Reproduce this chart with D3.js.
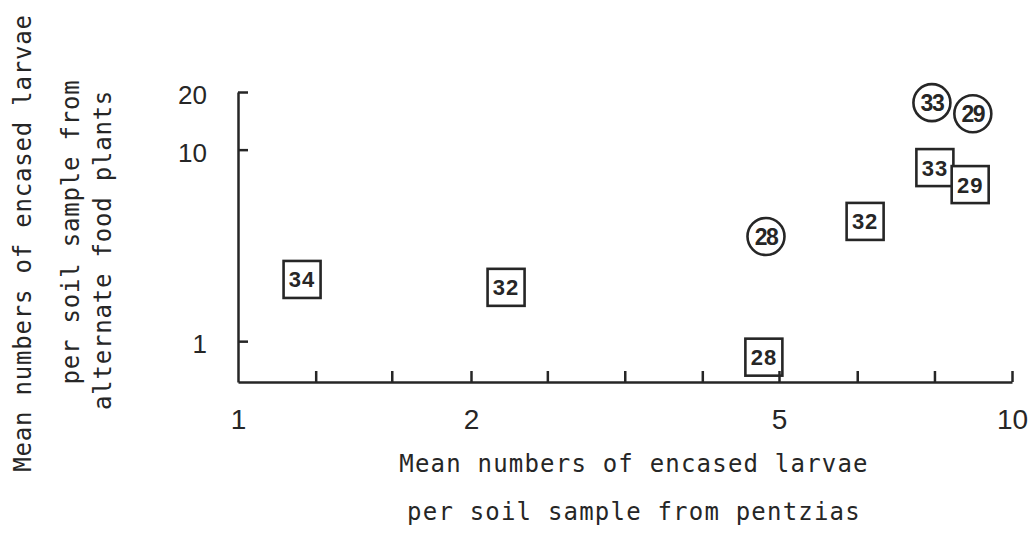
<!DOCTYPE html>
<html>
<head>
<meta charset="utf-8">
<script src="https://cdn.jsdelivr.net/npm/d3@7"></script>
<style>
  body { margin: 0; background: #fff; }
  svg { display: block; }
</style>
</head>
<body>
<div class="content-container"></div>
<script>
// data
const squareLabels = ["34", "32", "28", "32", "33", "29"];
const squareX = [1.21, 2.22, 4.78, 6.46, 7.95, 8.83];
const squareY = [2.10, 1.91, 0.825, 4.22, 8.06, 6.57];

const circleLabels = ["28", "33", "29"];
const circleX = [4.81, 7.88, 8.90];
const circleY = [3.52, 17.6, 15.4];

const xTickValues = [1.26, 1.58, 2, 2.51, 3.16, 3.98, 5, 6.31, 7.94, 10];
const xLabelValues = [1, 2, 5, 10];
const yTickValues = [1, 10, 20];

const xTitle = ["Mean numbers of encased larvae", "per soil sample from pentzias"];
const yTitle = ["Mean numbers of encased larvae", "per soil sample from", "alternate food plants"];

const width = 1035;
const height = 539;
const ink = "#262626";
const monoFont = "'DejaVu Sans Mono', monospace";
const sansFont = "'Liberation Sans', Arial, sans-serif";

// SCALES
const xScale = d3.scaleLog().domain([1, 10]).range([238, 1012]);
const yScale = d3.scaleLog().domain([0.612, 20]).range([382, 92]);

const chart = d3.select(".content-container")
  .append("svg")
  .attr("width", width)
  .attr("height", height);

chart.append("rect").attr("width", width).attr("height", height).attr("fill", "#fff");

// MARKERS
const squares = squareLabels.map((d, i) => ({ label: d, x: squareX[i], y: squareY[i] }));
const circles = circleLabels.map((d, i) => ({ label: d, x: circleX[i], y: circleY[i] }));
const side = 37;

const sq = chart.selectAll("g.square")
  .data(squares)
  .enter()
  .append("g")
  .attr("class", "square")
  .attr("transform", d => "translate(" + xScale(d.x) + "," + yScale(d.y) + ")");

sq.append("rect")
  .attr("x", -side / 2)
  .attr("y", -side / 2)
  .attr("width", side)
  .attr("height", side)
  .attr("fill", "#fff")
  .attr("stroke", ink)
  .attr("stroke-width", 2.6);

sq.append("text")
  .attr("text-anchor", "middle")
  .attr("dy", "0.36em")
  .style("font-family", sansFont)
  .style("font-weight", "bold")
  .style("font-size", "22px")
  .style("letter-spacing", "1px")
  .attr("fill", ink)
  .text(d => d.label);

const ci = chart.selectAll("g.circle")
  .data(circles)
  .enter()
  .append("g")
  .attr("class", "circle")
  .attr("transform", d => "translate(" + xScale(d.x) + "," + yScale(d.y) + ")");

ci.append("circle")
  .attr("r", 18.5)
  .attr("fill", "#fff")
  .attr("stroke", ink)
  .attr("stroke-width", 2.6);

ci.append("text")
  .attr("text-anchor", "middle")
  .attr("dy", "0.36em")
  .style("font-family", sansFont)
  .style("font-weight", "bold")
  .style("font-size", "23px")
  .style("letter-spacing", "-1.5px")
  .attr("fill", ink)
  .text(d => d.label);

// AXES
const xAxis = d3.axisBottom(xScale)
  .tickValues(xTickValues)
  .tickSize(-11)
  .tickSizeOuter(0)
  .tickFormat("");

const gx = chart.append("g")
  .attr("transform", "translate(0," + yScale.range()[0] + ")")
  .call(xAxis);
gx.selectAll("path, line").attr("stroke", ink).attr("stroke-width", 2.5);

const xLabels = d3.axisBottom(xScale)
  .tickValues(xLabelValues)
  .tickSize(0)
  .tickPadding(27)
  .tickFormat(d3.format("d"));

chart.append("g")
  .attr("transform", "translate(0," + yScale.range()[0] + ")")
  .call(xLabels)
  .call(g => g.select(".domain").remove())
  .selectAll("text")
  .style("font-family", sansFont)
  .style("font-size", "28px")
  .attr("fill", ink);

const yAxis = d3.axisLeft(yScale)
  .tickValues(yTickValues)
  .tickSize(-10)
  .tickSizeOuter(0)
  .tickPadding(31)
  .tickFormat(d3.format("d"));

const gy = chart.append("g")
  .attr("transform", "translate(" + xScale.range()[0] + ",0)")
  .call(yAxis);
gy.selectAll("path, line").attr("stroke", ink).attr("stroke-width", 2.5);
gy.selectAll("text")
  .attr("dy", "0.45em")
  .style("font-family", sansFont)
  .style("font-size", "26px")
  .attr("fill", ink);

// TITLES
chart.append("g")
  .selectAll("text")
  .data(xTitle)
  .enter()
  .append("text")
  .attr("x", 634)
  .attr("y", (d, i) => 472 + i * 48)
  .attr("text-anchor", "middle")
  .style("font-family", monoFont)
  .style("font-size", "24px")
  .style("letter-spacing", "1.2px")
  .attr("fill", ink)
  .text(d => d);

const yTitleX = [31, 79, 111];
const yTitleCenter = [243, 232, 250];

chart.append("g")
  .selectAll("text")
  .data(yTitle)
  .enter()
  .append("text")
  .attr("transform", (d, i) => "translate(" + yTitleX[i] + "," + yTitleCenter[i] + ") rotate(-90)")
  .attr("text-anchor", "middle")
  .style("font-family", monoFont)
  .style("font-size", "24px")
  .style("letter-spacing", "0.8px")
  .attr("fill", ink)
  .text(d => d);
</script>
</body>
</html>
